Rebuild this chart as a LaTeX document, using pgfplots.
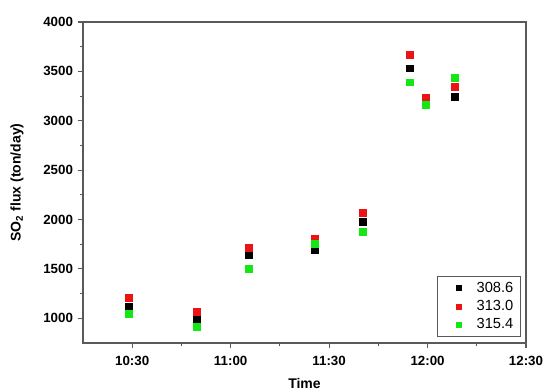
\documentclass[border=0pt]{standalone}
\usepackage{fontspec}
\setmainfont{Liberation Sans}
\usepackage{pgfplots}
\pgfplotsset{compat=1.18}
\definecolor{myred}{RGB}{235,20,20}
\definecolor{mygreen}{RGB}{20,232,20}
\definecolor{axgray}{RGB}{90,90,90}
\begin{document}
\begin{tikzpicture}[x=1pt,y=1pt]
\begin{axis}[
  at={(0,0)}, anchor=south west,
  scale only axis, width=332.25pt, height=240.75pt,
  xmin=15, xmax=150, ymin=750, ymax=4000,
  xtick={30,60,90,120,150},
  xticklabels={10:30,11:00,11:30,12:00,12:30},
  minor xtick={45,75,105,135},
  ytick={1000,1500,2000,2500,3000,3500,4000},
  minor ytick={1250,1750,2250,2750,3250,3750},
  tick align=outside,
  xtick pos=bottom, ytick pos=left,
  major tick length=4pt, minor tick length=2.5pt,
  axis line style={axgray, line width=1pt},
  every tick/.style={axgray, line width=0.8pt},
  every minor tick/.style={axgray, line width=0.8pt},
  /pgf/number format/assume math mode=true,
  /pgf/number format/1000 sep={},
  tick label style={font=\fontsize{10}{11}\selectfont\bfseries},
  xticklabel style={yshift=-2pt},
  xlabel={\textbf{Time}}, ylabel={\textbf{SO\textsubscript{2} flux (ton/day)}},
  label style={font=\fontsize{10.5}{12}\selectfont},
  xlabel style={yshift=-3pt},
  ylabel style={yshift=8pt},
  legend style={at={(0.987,0.019)}, anchor=south east, draw=axgray,
    font=\fontsize{11}{13}\selectfont, row sep=0.5pt,
    inner xsep=3pt, inner ysep=2.5pt},
  legend cell align=left,
  legend image code/.code={\path (0,0) (0.85cm,0);\draw[#1, mark size=1.9pt] plot coordinates {(0.45cm,0cm)};},
  only marks,
]
\addplot[mark=square*, black, mark size=2.6pt, mark options={draw=black, fill=black, line width=0.2pt}] coordinates {
(29,1116) (49.6,987) (65.4,1640) (85.7,1690) (100.1,1978) (114.4,3533) (119.4,3192) (128.2,3243)};
\addlegendentry{308.6}
\addplot[mark=square*, myred, mark size=2.6pt, mark options={draw=myred, fill=myred, line width=0.2pt}] coordinates {
(29,1210) (49.6,1071) (65.4,1712) (85.7,1802) (100.1,2069) (114.4,3665) (119.4,3232) (128.2,3341)};
\addlegendentry{313.0}
\addplot[mark=square*, mygreen, mark size=2.6pt, mark options={draw=mygreen, fill=mygreen, line width=0.2pt}] coordinates {
(29,1045) (49.6,919) (65.4,1501) (85.7,1755) (100.1,1876) (114.4,3391) (119.4,3165) (128.2,3435)};
\addlegendentry{315.4}
\end{axis}
\pgfresetboundingbox
\path (-62.25pt,-36.75pt) rectangle (345.75pt,257.25pt);
\end{tikzpicture}
\end{document}
